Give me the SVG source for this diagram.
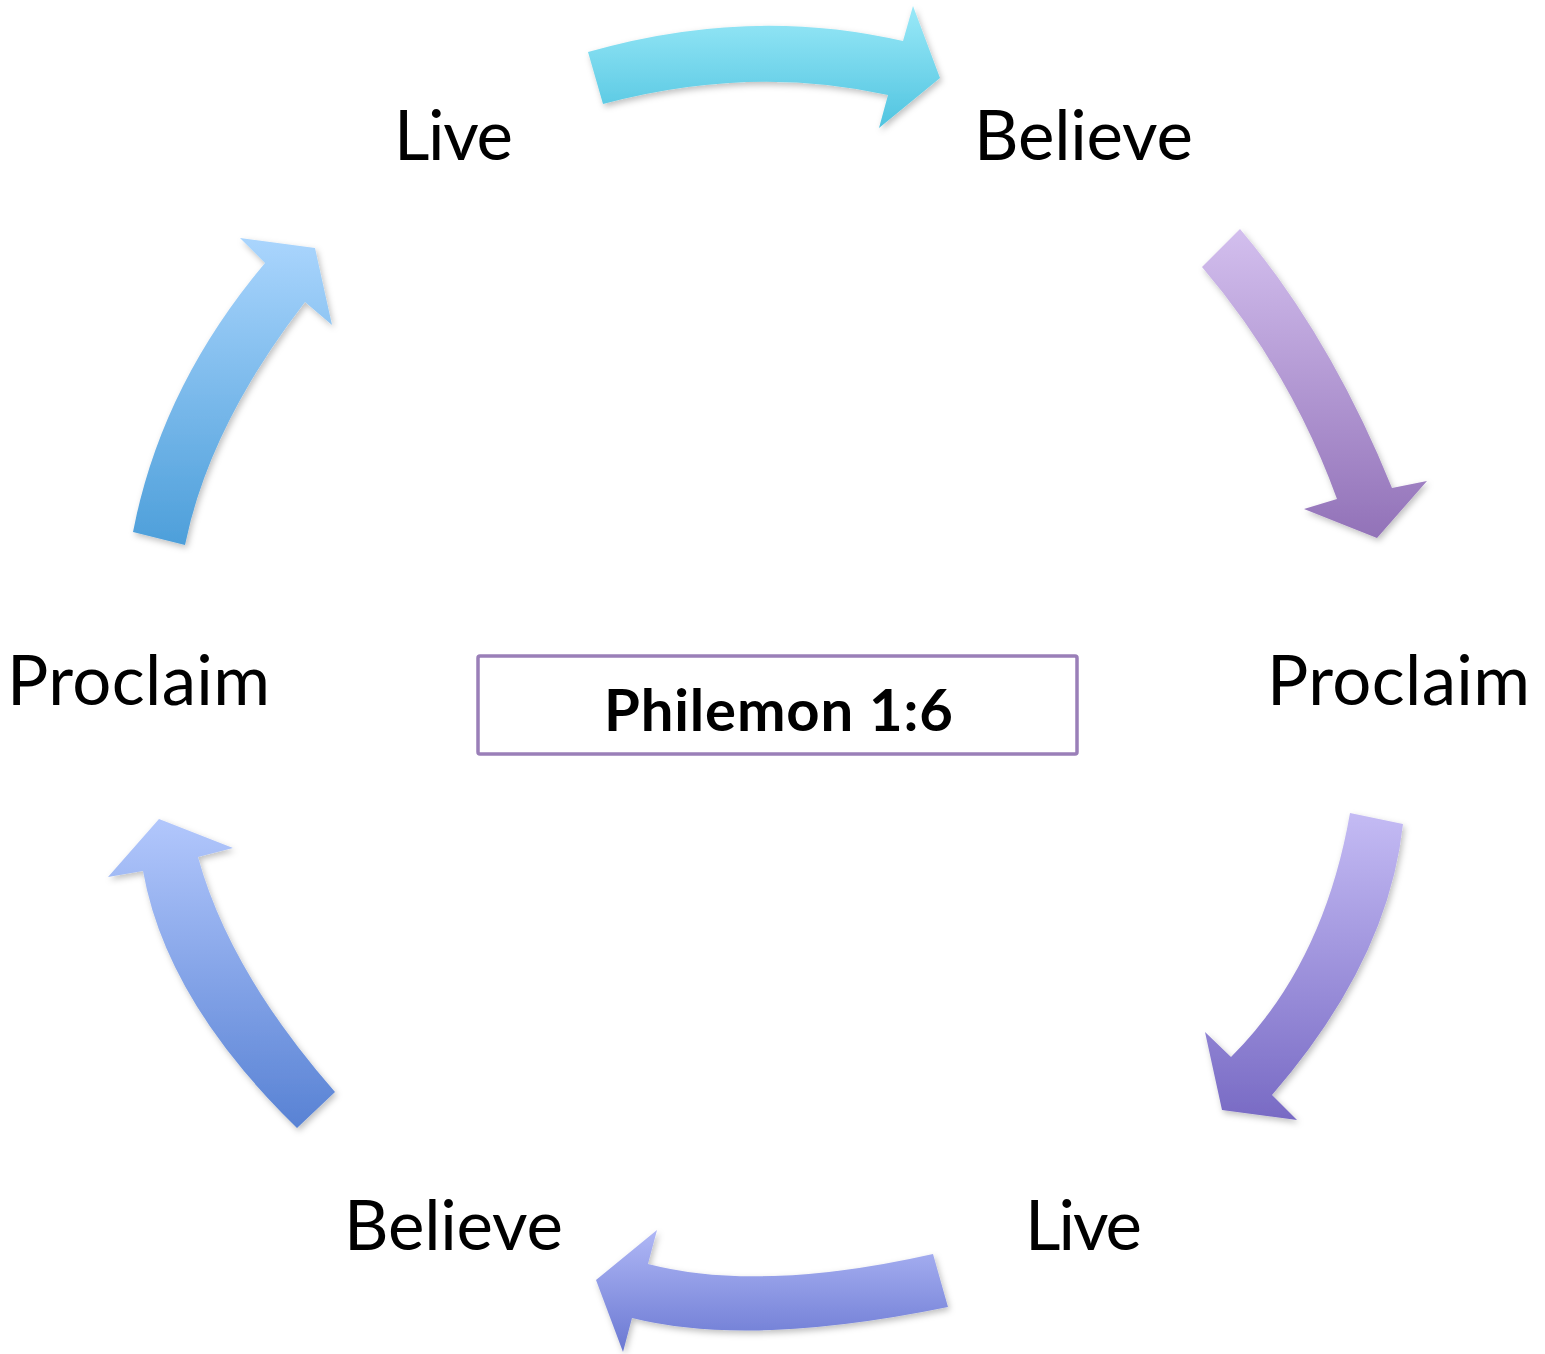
<svg xmlns="http://www.w3.org/2000/svg" width="1545" height="1354" viewBox="0 0 1545 1354">
<style>
.lbl{font-family:Lato,"Open Sans","Liberation Sans",sans-serif;font-size:69px;fill:#000}
.title{font-family:Lato,"Open Sans","Liberation Sans",sans-serif;font-size:58px;font-weight:bold;fill:#000}
.arr{filter:url(#sh)}
</style>
<defs>
<filter id="sh" x="-20%" y="-20%" width="140%" height="140%">
<feDropShadow dx="2" dy="3" stdDeviation="3" flood-color="#000" flood-opacity="0.25"/>
</filter>
<linearGradient id="g1" x1="0" y1="0" x2="0" y2="1"><stop offset="0" stop-color="#9AE9F8"/><stop offset="1" stop-color="#50C4E0"/></linearGradient>
<linearGradient id="g2" x1="0" y1="0" x2="0" y2="1"><stop offset="0" stop-color="#D3BFEE"/><stop offset="1" stop-color="#9272B8"/></linearGradient>
<linearGradient id="g3" x1="0" y1="0" x2="0" y2="1"><stop offset="0" stop-color="#C4BBF4"/><stop offset="1" stop-color="#786AC4"/></linearGradient>
<linearGradient id="g4" x1="0" y1="0" x2="0" y2="1"><stop offset="0" stop-color="#B0B8F6"/><stop offset="1" stop-color="#6A78D2"/></linearGradient>
<linearGradient id="g5" x1="0" y1="0" x2="0" y2="1"><stop offset="0" stop-color="#B2C7FC"/><stop offset="1" stop-color="#5882D4"/></linearGradient>
<linearGradient id="g6" x1="0" y1="0" x2="0" y2="1"><stop offset="0" stop-color="#AAD5FD"/><stop offset="1" stop-color="#4D9FDA"/></linearGradient>
</defs>
<rect width="1545" height="1354" fill="#fff"/>
<g id="connectors">
<path class="arr" fill="url(#g1)" d="M588,52 Q750,5.5 903,41 L913,6 L940,78 L879,128 L888,95 Q750,64.5 603,104 Z"/>
<path class="arr" fill="url(#g2)" d="M1240,229 Q1330,335.5 1392,488 L1427,481 L1377,538 L1304,509 L1337,499 Q1290.5,371 1202,267 Z"/>
<path class="arr" fill="url(#g3)" d="M1403,824 Q1388.5,960.5 1272,1095 L1297,1120 L1222,1110 L1205,1032 L1231,1057 Q1323.5,965 1350,813 Z"/>
<path class="arr" fill="url(#g4)" d="M948,1307 Q750,1347.5 632,1318 L623,1352 L596,1280 L657,1230 L648,1264 Q760,1293 933,1254 Z"/>
<path class="arr" fill="url(#g5)" d="M297,1128 Q166,1000.5 143,871 L108,877 L159,819 L233,848 L198,857 Q229.5,971.5 335,1092 Z"/>
<path class="arr" fill="url(#g6)" d="M133,532 Q161,386.5 265,263 L240,238 L315,248 L332,325 L305,302 Q209,426.5 185,545 Z"/>
</g>
<g id="live-top"><text class="lbl" x="394" y="160" textLength="119">Live</text></g>
<g id="believe-top"><text class="lbl" x="974" y="160" textLength="219">Believe</text></g>
<g id="proclaim-right"><text class="lbl" x="1267" y="705" textLength="263">Proclaim</text></g>
<g id="live-bottom"><text class="lbl" x="1025" y="1250" textLength="117">Live</text></g>
<g id="believe-bottom"><text class="lbl" x="344" y="1250" textLength="219">Believe</text></g>
<g id="proclaim-left"><text class="lbl" x="7" y="705" textLength="263">Proclaim</text></g>
<g id="center">
<rect x="478" y="656" width="599" height="98" rx="2" fill="#fff" stroke="#9A7FB8" stroke-width="3.5"/>
<text class="title" x="604" y="731" textLength="349">Philemon 1:6</text>
</g>
</svg>
